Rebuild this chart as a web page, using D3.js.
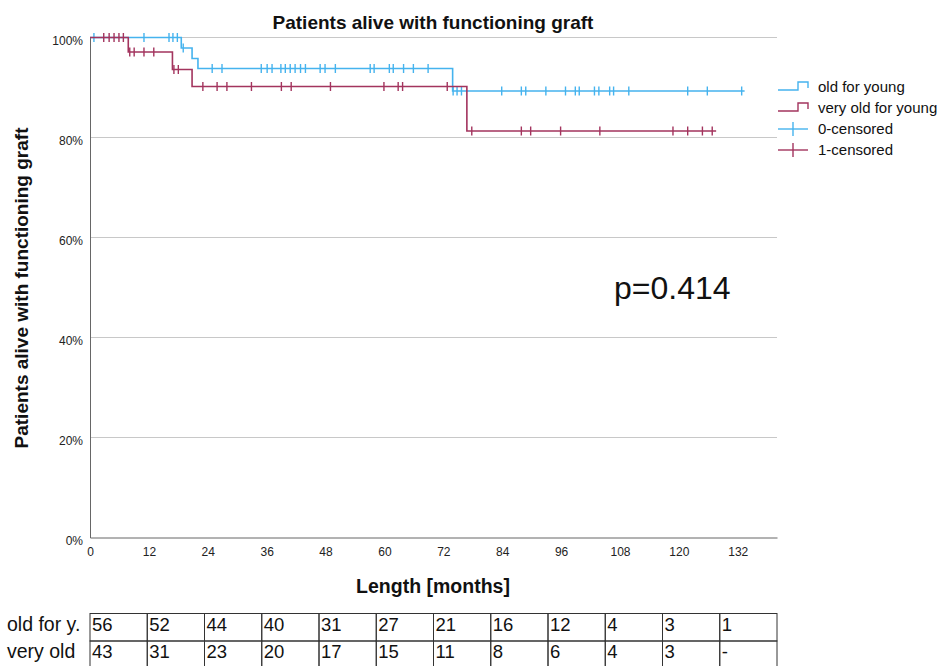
<!DOCTYPE html>
<html><head><meta charset="utf-8">
<script src="https://cdn.jsdelivr.net/npm/d3@7"></script>
<style>body{margin:0;background:#fff}svg{display:block}text{font-family:"Liberation Sans",Arial,sans-serif}</style>
</head><body><svg id="c" width="946" height="666"></svg>
<script>
// ---- data ----
const seriesNames = ["old for young", "very old for young"];
const blueStepTimes = [0, 18.6, 20.8, 22.0, 73.9];
const blueStepSurv  = [100, 97.9, 95.8, 93.8, 89.3];
const blueEnd = 133.4;
const blueCensor = [0.8, 11.0, 16.1, 16.9, 17.8, 19.0, 24.9, 26.9, 34.9, 36.1, 37.1, 38.9, 39.8, 40.8, 41.8, 42.9, 43.9, 46.9, 47.9, 50.0, 57.1, 57.9, 61.0, 61.8, 63.9, 65.9, 68.9, 74.0, 74.8, 75.7, 83.9, 87.9, 88.8, 92.9, 96.9, 98.9, 99.7, 102.8, 103.7, 105.9, 106.7, 109.8, 121.8, 125.8, 132.8];
const redStepTimes = [0, 7.8, 16.8, 20.8, 76.8];
const redStepSurv  = [100, 97.1, 93.6, 90.2, 81.3];
const redEnd = 127.6;
const redCensor = [2.8, 3.9, 4.9, 5.9, 6.8, 8.1, 9.0, 11.0, 13.0, 17.1, 18.0, 23.0, 25.9, 27.9, 32.9, 39.0, 41.0, 49.0, 59.9, 62.8, 63.7, 72.8, 77.8, 87.9, 89.8, 95.9, 103.9, 118.8, 121.8, 124.8, 126.8];
const xTicks = [0, 12, 24, 36, 48, 60, 72, 84, 96, 108, 120, 132];
const yTicks = [0, 20, 40, 60, 80, 100];
const tableLabels = ["old for y.", "very old"];
const atRiskOld = ["56","52","44","40","31","27","21","16","12","4","3","1"];
const atRiskVeryOld = ["43","31","23","20","17","15","11","8","6","4","3","-"];
const pText = "p=0.414";

// ---- drawing ----
const svg = d3.select("#c");
const blue = "#45b3ee", red = "#a3345e";
const x = d3.scaleLinear().domain([0, 140]).range([90, 777]);
const y = d3.scaleLinear().domain([0, 100]).range([537.5, 37.5]);

// gridlines
svg.append("g").selectAll("line").data(yTicks.filter(d => d > 0)).join("line")
  .attr("x1", x(0)).attr("x2", x(140)).attr("y1", d => y(d)).attr("y2", d => y(d))
  .attr("stroke", "#c8c8c8").attr("stroke-width", 1);

// axes
const xAxis = svg.append("g").attr("transform", `translate(0,${y(0)})`)
  .call(d3.axisBottom(x).tickValues(xTicks).tickSize(0).tickPadding(10));
xAxis.select(".domain").attr("stroke", "#666");
xAxis.selectAll("text").attr("font-size", 12).attr("fill", "#222").attr("font-family", '"Liberation Sans",Arial,sans-serif');
const yAxis = svg.append("g").attr("transform", `translate(${x(0)},0)`)
  .call(d3.axisLeft(y).tickValues(yTicks).tickSize(0).tickPadding(7).tickFormat(d => d + "%"));
yAxis.select(".domain").attr("stroke", "#666");
yAxis.selectAll("text").attr("font-size", 12).attr("fill", "#222").attr("dy", "0.6em").attr("font-family", '"Liberation Sans",Arial,sans-serif');

// step curves
function stepPts(times, surv, end) {
  const pts = times.map((t, i) => [t, surv[i]]);
  pts.push([end, surv[surv.length - 1]]);
  return pts;
}
function survAt(times, surv, t) {
  let v = surv[0];
  for (let i = 0; i < times.length; i++) if (times[i] <= t) v = surv[i];
  return v;
}
const line = d3.line().x(d => x(d[0])).y(d => y(d[1])).curve(d3.curveStepAfter);
const curves = [
  {times: blueStepTimes, surv: blueStepSurv, end: blueEnd, cens: blueCensor, color: blue},
  {times: redStepTimes, surv: redStepSurv, end: redEnd, cens: redCensor, color: red}
];
curves.forEach(c => {
  svg.append("path").datum(stepPts(c.times, c.surv, c.end)).attr("d", line)
    .attr("fill", "none").attr("stroke", c.color).attr("stroke-width", 1.6);
  svg.append("g").selectAll("line").data(c.cens).join("line")
    .attr("x1", d => x(d)).attr("x2", d => x(d))
    .attr("y1", d => y(survAt(c.times, c.surv, d)) - 4.5)
    .attr("y2", d => y(survAt(c.times, c.surv, d)) + 4.5)
    .attr("stroke", c.color).attr("stroke-width", 1.4);
});

// titles
svg.append("text").attr("x", 433).attr("y", 29).attr("text-anchor", "middle")
  .attr("font-size", 19).attr("font-weight", "bold").attr("fill", "#111")
  .text("Patients alive with functioning graft");
svg.append("text").attr("transform", "translate(28,288) rotate(-90)").attr("text-anchor", "middle")
  .attr("font-size", 19).attr("font-weight", "bold").attr("fill", "#111")
  .text("Patients alive with functioning graft");
svg.append("text").attr("x", 433).attr("y", 593).attr("text-anchor", "middle")
  .attr("font-size", 19.5).attr("font-weight", "bold").attr("fill", "#111")
  .text("Length [months]");
svg.append("text").attr("x", 614).attr("y", 299).attr("font-size", 32).attr("fill", "#111").text(pText);

// legend
const lg = svg.append("g");
const legendItems = [
  {label: seriesNames[0], color: blue, type: "step"},
  {label: seriesNames[1], color: red, type: "step"},
  {label: "0-censored", color: blue, type: "cens"},
  {label: "1-censored", color: red, type: "cens"}
];
legendItems.forEach((it, i) => {
  const by = 92 + i * 21;
  if (it.type === "step") {
    lg.append("path").attr("d", `M778,${by - 2}H798V${by - 10}H808V${by - 4}`)
      .attr("fill", "none").attr("stroke", it.color).attr("stroke-width", 1.4);
  } else {
    lg.append("line").attr("x1", 778).attr("x2", 808).attr("y1", by - 5).attr("y2", by - 5)
      .attr("stroke", it.color).attr("stroke-width", 1.4);
    lg.append("line").attr("x1", 793).attr("x2", 793).attr("y1", by - 12).attr("y2", by + 2)
      .attr("stroke", it.color).attr("stroke-width", 1.4);
  }
  lg.append("text").attr("x", 818).attr("y", by).attr("font-size", 15).attr("fill", "#111").text(it.label);
});

// at-risk table
const colW = (x(140) - x(0)) / 12;
const tTop = 613.5, rowH = 27.5;
const tbl = svg.append("g");
[atRiskOld, atRiskVeryOld].forEach((row, r) => {
  tbl.append("text").attr("x", 7).attr("y", tTop + rowH * r + 17).attr("font-size", 19.5).attr("fill", "#111").text(tableLabels[r]);
  row.forEach((v, i) => {
    tbl.append("rect").attr("x", x(0) + colW * i).attr("y", tTop + rowH * r)
      .attr("width", colW).attr("height", rowH).attr("fill", "none").attr("stroke", "#333").attr("stroke-width", 1);
    tbl.append("text").attr("x", x(0) + colW * i + 2).attr("y", tTop + rowH * r + 17)
      .attr("font-size", 18.5).attr("fill", "#111").text(v);
  });
});
</script></body></html>
